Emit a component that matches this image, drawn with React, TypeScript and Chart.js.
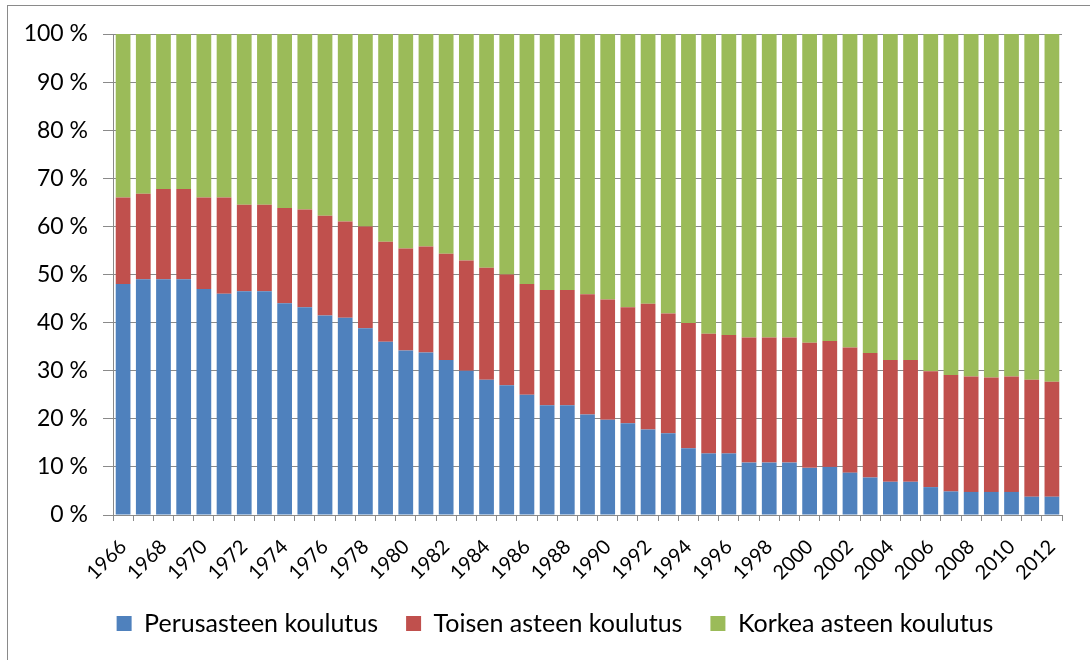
import React, { useEffect, useRef } from "react";
import { Chart, registerables } from "chart.js";

Chart.register(...registerables);

const years: string[] = [];
for (let y = 1966; y <= 2012; y++) years.push(String(y));

const perusaste = [
  48, 49, 49, 49, 47, 46, 46.5, 46.5, 44, 43.2, 41.5, 41, 38.8, 36, 34.2, 33.8,
  32.2, 30, 28.1, 27, 25, 22.8, 22.8, 20.9, 19.8, 19.1, 17.8, 17, 13.9, 12.8,
  12.8, 10.9, 10.9, 10.9, 9.8, 10, 8.8, 7.8, 6.9, 6.9, 5.8, 4.9, 4.8, 4.8, 4.8,
  3.8, 3.8,
];

const toinenAste = [
  18, 17.8, 18.8, 18.8, 19, 20, 18, 18, 19.8, 20.3, 20.7, 20, 21.2, 20.8, 21.2,
  22, 22.1, 22.9, 23.3, 23, 23, 24, 24, 25, 25, 24.1, 26.1, 24.9, 26, 24.9, 24.6,
  26, 26, 26, 26, 26.2, 26, 25.9, 25.3, 25.3, 24.1, 24.2, 24, 23.8, 24, 24.3,
  23.9,
];

const korkeaAste = perusaste.map((p, i) => +(100 - p - toinenAste[i]).toFixed(1));

const yTicks = [0, 10, 20, 30, 40, 50, 60, 70, 80, 90, 100];

const seriesNames = [
  "Perusasteen koulutus",
  "Toisen asteen koulutus",
  "Korkea asteen koulutus",
];

const FONT = "Lato, 'Open Sans', sans-serif";
const GRID = "#8a8a8a";

const legendShift = {
  id: "legendShift",
  afterLayout(chart: any) {
    const lg = chart.legend;
    if (lg) {
      lg.left += 24;
      lg.right += 24;
      lg.top -= 14;
      lg.bottom -= 14;
    }
  },
};

export default function App() {
  const ref = useRef<HTMLCanvasElement | null>(null);

  useEffect(() => {
    if (!ref.current) return;
    const chart = new Chart(ref.current, {
      type: "bar",
      data: {
        labels: years,
        datasets: [
          { label: seriesNames[0], data: perusaste, backgroundColor: "#4F81BD" },
          { label: seriesNames[1], data: toinenAste, backgroundColor: "#C0504D" },
          { label: seriesNames[2], data: korkeaAste, backgroundColor: "#9BBB59" },
        ],
      },
      plugins: [legendShift],
      options: {
        responsive: false,
        animation: false,
        layout: { padding: { top: 34, right: 28, bottom: 0, left: 0 } },
        datasets: {
          bar: { barPercentage: 0.73, categoryPercentage: 1 },
        },
        plugins: {
          tooltip: { enabled: false },
          legend: {
            position: "bottom",
            labels: {
              boxWidth: 15,
              boxHeight: 15,
              padding: 28,
              color: "#000",
              font: { family: FONT, size: 25 },
            },
          },
        },
        scales: {
          x: {
            stacked: true,
            grid: {
              offset: true,
              drawOnChartArea: false,
              drawTicks: true,
              tickLength: 6,
              color: GRID,
            },
            border: { color: GRID, width: 1 },
            ticks: {
              autoSkip: false,
              maxRotation: 45,
              minRotation: 45,
              padding: 14,
              color: "#000",
              font: { family: FONT, size: 20 },
              callback: (_v: any, i: number) => (i % 2 === 0 ? years[i] : ""),
            },
            afterFit: (scale: any) => {
              scale.height = 82;
            },
          },
          y: {
            stacked: true,
            min: 0,
            max: 100,
            afterBuildTicks: (scale: any) => {
              scale.ticks = yTicks.map((v) => ({ value: v }));
            },
            grid: {
              color: GRID,
              drawTicks: true,
              tickLength: 10,
            },
            border: { color: GRID, width: 1 },
            ticks: {
              padding: 15,
              color: "#000",
              font: { family: FONT, size: 23 },
              callback: (v: any) => `${v} %`,
            },
            afterFit: (scale: any) => {
              scale.width = 113;
            },
          },
        },
      },
    });
    return () => chart.destroy();
  }, []);

  return (
    <div
      style={{
        position: "fixed",
        left: 0,
        top: 0,
        width: 1090,
        height: 660,
        background: "#fff",
        overflow: "hidden",
      }}
    >
      <div
        style={{
          position: "absolute",
          left: 7,
          top: 5,
          width: 2000,
          height: 2000,
          borderLeft: "1px solid #8a8a8a",
          borderTop: "1px solid #8a8a8a",
        }}
      />
      <canvas
        ref={ref}
        width={1090}
        height={660}
        style={{ position: "absolute", left: 0, top: 0, width: 1090, height: 660 }}
      />
    </div>
  );
}
